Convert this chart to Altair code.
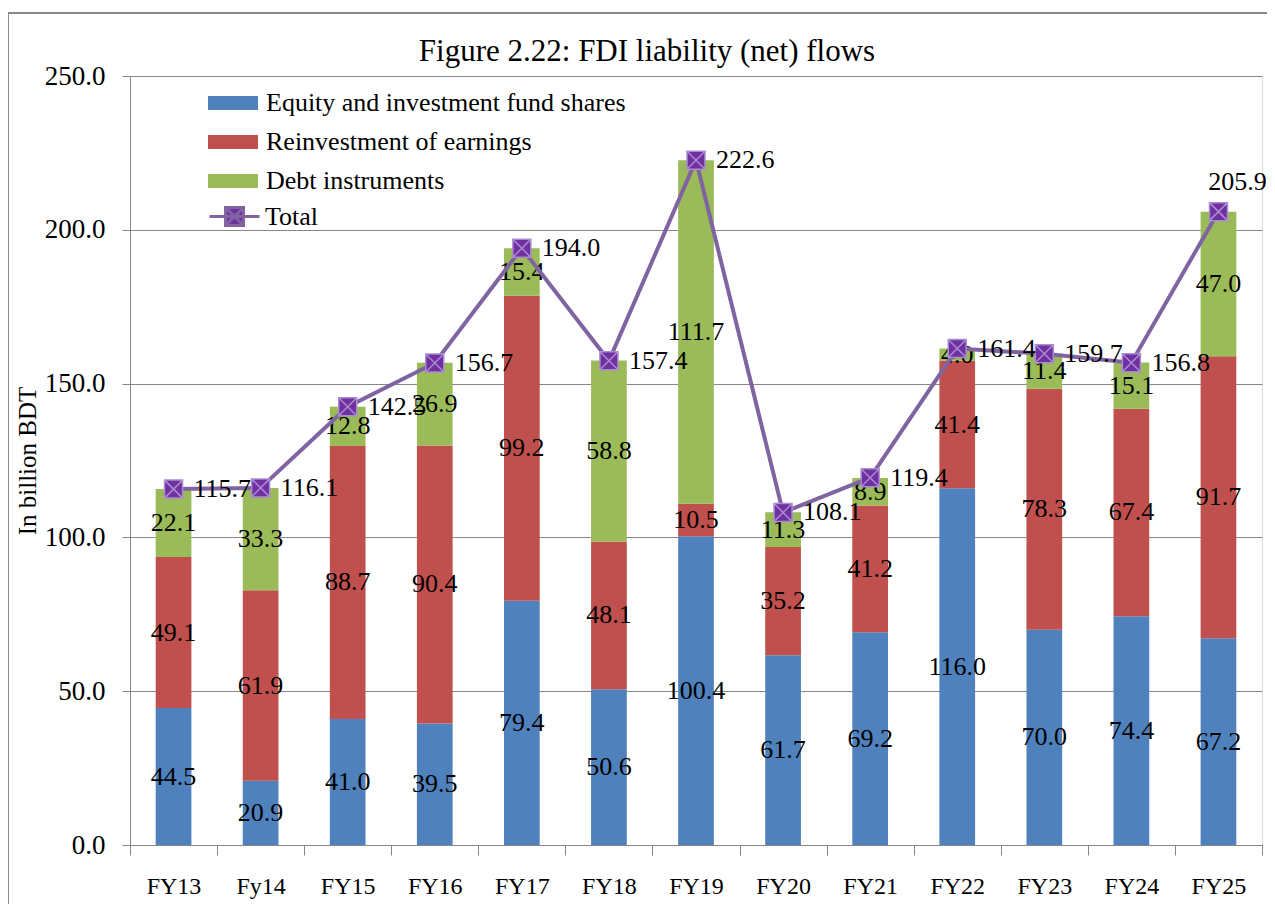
import altair as alt
import pandas as pd

categories = ["FY13", "Fy14", "FY15", "FY16", "FY17", "FY18", "FY19",
              "FY20", "FY21", "FY22", "FY23", "FY24", "FY25"]
equity = [44.5, 20.9, 41.0, 39.5, 79.4, 50.6, 100.4, 61.7, 69.2, 116.0, 70.0, 74.4, 67.2]
reinvest = [49.1, 61.9, 88.7, 90.4, 99.2, 48.1, 10.5, 35.2, 41.2, 41.4, 78.3, 67.4, 91.7]
debt = [22.1, 33.3, 12.8, 26.9, 15.4, 58.8, 111.7, 11.3, 8.9, 4.0, 11.4, 15.1, 47.0]
total = [115.7, 116.1, 142.5, 156.7, 194.0, 157.4, 222.6, 108.1, 119.4, 161.4, 159.7, 156.8, 205.9]

series_names = ["Equity and investment fund shares", "Reinvestment of earnings", "Debt instruments"]
series_colors = ["#4F81BD", "#C0504D", "#9BBB59"]
y_ticks = [0, 50, 100, 150, 200, 250]

rows = []
for si, (name, vals) in enumerate(zip(series_names, [equity, reinvest, debt])):
    for c, v in zip(categories, vals):
        rows.append({"cat": c, "series": name, "idx": si, "value": v})
bars_df = pd.DataFrame(rows)
total_df = pd.DataFrame({"cat": categories, "value": total, "name": ["Total"] * len(categories)})

FONT = "Liberation Serif"

x_enc = alt.X("cat:N", sort=categories,
              scale=alt.Scale(paddingInner=0, paddingOuter=0),
              axis=alt.Axis(title=None, labelAngle=0, tickBand="extent", tickSize=10,
                            labelPadding=19, labelFontSize=24, labelFont=FONT,
                            labelColor="black", domainColor="#868686", tickColor="#868686",
                            grid=False))
y_scale = alt.Scale(domain=[0, 250], nice=False)
y_axis = alt.Axis(title="In billion BDT", values=y_ticks, format=".1f", tickSize=8,
                  labelPadding=17, labelFontSize=27, labelFont=FONT, labelColor="black",
                  titleFont=FONT, titleFontSize=25, titleFontWeight="normal",
                  titleColor="black", titlePadding=4,
                  domainColor="#868686", tickColor="#868686",
                  grid=True, gridColor="#868686", gridWidth=1)

frame = alt.Chart(pd.DataFrame({"k": [0]})).mark_rect(
    fill="transparent", stroke="#8A8A8A", strokeWidth=2
).encode(x=alt.value(-122), x2=alt.value(1200), y=alt.value(-63), y2=alt.value(900))

bars = alt.Chart(bars_df).mark_bar(width=alt.RelativeBandSize(0.41)).encode(
    x=x_enc,
    y=alt.Y("value:Q", stack="zero", scale=y_scale, axis=y_axis),
    fill=alt.Fill("series:N", scale=alt.Scale(domain=series_names, range=series_colors),
                  legend=alt.Legend(title=None, orient="none", legendX=78, legendY=2,
                                    symbolType="M-1,-0.28H1V0.28H-1Z", symbolSize=2500,
                                    symbolStrokeWidth=0, labelFont=FONT, labelFontSize=26,
                                    labelColor="black", labelLimit=600, rowPadding=1,
                                    labelOffset=8)),
    order=alt.Order("idx:Q", sort="ascending"),
)

bar_labels = alt.Chart(bars_df).transform_stack(
    stack="value", groupby=["cat"], as_=["y0", "y1"],
    sort=[alt.SortField("idx", order="ascending")]
).transform_calculate(mid="(datum.y0 + datum.y1) / 2").mark_text(
    font=FONT, fontSize=26, color="black", baseline="middle", align="center"
).encode(
    x=alt.X("cat:N", sort=categories),
    y=alt.Y("mid:Q", scale=y_scale),
    text=alt.Text("value:Q", format=".1f"),
)

line = alt.Chart(total_df).mark_line(strokeWidth=4).encode(
    x=alt.X("cat:N", sort=categories),
    y=alt.Y("value:Q", scale=y_scale),
    stroke=alt.Stroke("name:N", scale=alt.Scale(domain=["Total"], range=["#8064A2"]),
                      legend=alt.Legend(title=None, orient="none", legendX=78, legendY=114,
                                        symbolType="M-1,0H1M-0.36,-0.36H0.36V0.36H-0.36ZM-0.36,-0.36L0.36,0.36M-0.36,0.36L0.36,-0.36",
                                        symbolSize=2500, symbolStrokeWidth=3,
                                        symbolFillColor="#7030A0",
                                        labelFont=FONT, labelFontSize=26, labelColor="black",
                                        labelOffset=4)),
)

points = alt.Chart(total_df).mark_point(
    shape="M-1,-1H1V1H-1ZM-1,-1L1,1M-1,1L1,-1", filled=True, fill="#7030A0",
    stroke="#A98CD2", strokeWidth=1.5, size=324, opacity=1
).encode(
    x=alt.X("cat:N", sort=categories),
    y=alt.Y("value:Q", scale=y_scale),
)

total_labels = alt.Chart(total_df).transform_filter(
    alt.datum.cat != "FY25"
).mark_text(font=FONT, fontSize=26, color="black", align="left", baseline="middle", dx=20).encode(
    x=alt.X("cat:N", sort=categories),
    y=alt.Y("value:Q", scale=y_scale),
    text=alt.Text("value:Q", format=".1f"),
)

last_label = alt.Chart(total_df).transform_filter(
    alt.datum.cat == "FY25"
).mark_text(font=FONT, fontSize=26, color="black", align="center", baseline="middle", dx=19, dy=-30).encode(
    x=alt.X("cat:N", sort=categories),
    y=alt.Y("value:Q", scale=y_scale),
    text=alt.Text("value:Q", format=".1f"),
)

chart = alt.layer(frame, bars, bar_labels, line, points, total_labels, last_label).properties(
    width=1132, height=769,
    title=alt.TitleParams("Figure 2.22: FDI liability (net) flows", font=FONT, fontSize=31,
                          fontWeight="normal", color="black", anchor="middle", dx=-49, offset=-56),
    autosize=alt.AutoSizeParams(type="none"),
    padding={"left": 122, "top": 68, "right": 5, "bottom": 59},
).configure_view(stroke=None).configure(background="white", font=FONT)

chart.save("out.html", embed_options={"renderer": "svg", "actions": False})
